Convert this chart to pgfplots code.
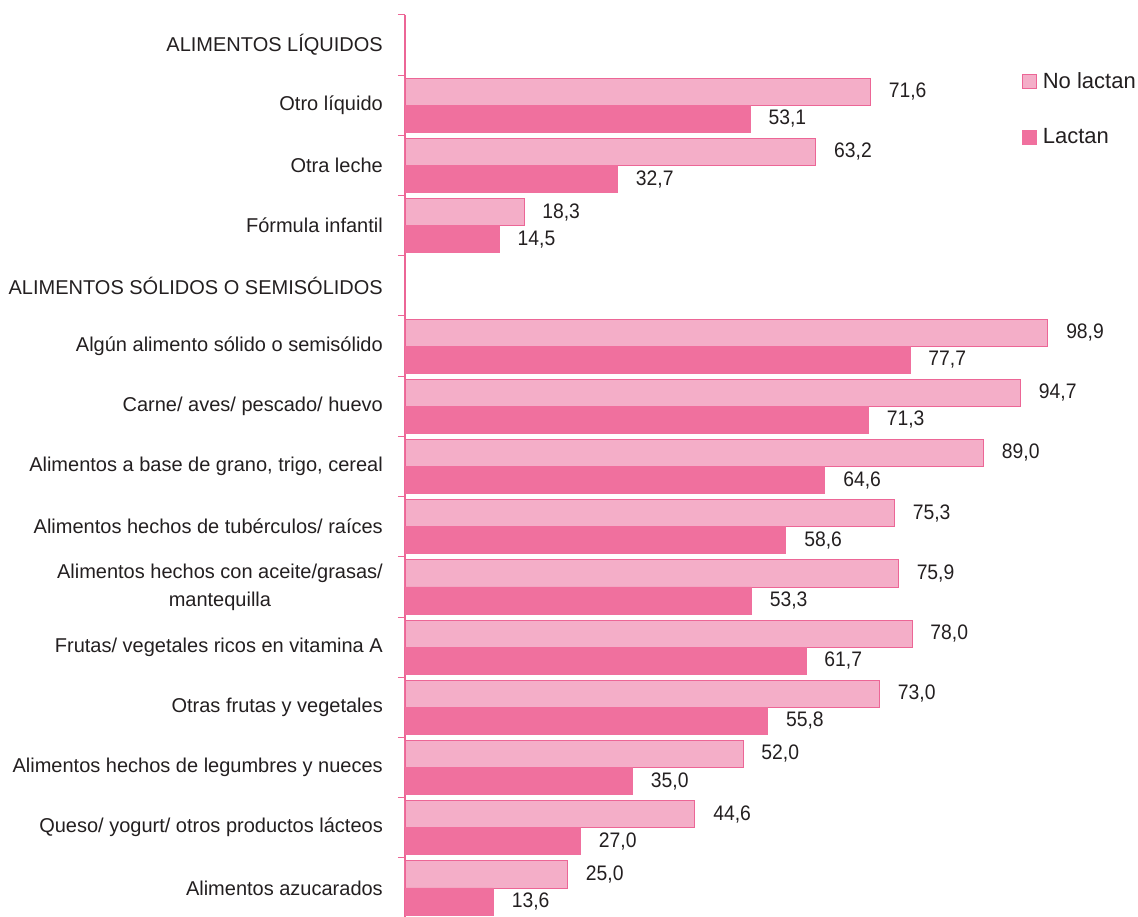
\documentclass[border=0pt]{standalone}
\usepackage{pgfplots}
\pgfplotsset{compat=1.18}
\usepackage{fontspec}
\setmainfont{Liberation Sans}
\newfontfamily\numfont[FakeStretch=0.92]{Liberation Sans}
\definecolor{lightpk}{RGB}{244,174,200}
\definecolor{darkpk}{RGB}{240,112,158}
\definecolor{edgepk}{RGB}{236,102,150}
\definecolor{txt}{RGB}{35,31,32}

\begin{document}
\begin{tikzpicture}
\begin{axis}[
  scale only axis, width=650pt, height=903pt,
  xmin=0, xmax=100, ymin=-0.5, ymax=14.5, y dir=reverse,
  axis x line=none, axis y line*=left,
  axis line style={edgepk, line width=1.2pt},
  xbar, bar width=0.45,
  ytick={0,...,14}, major tick length=0pt,
  minor ytick={-0.5,0.5,...,14.5}, minor tick length=7pt, tick align=outside,
  tick style={edgepk, line width=1pt},
  yticklabels={
    ALIMENTOS LÍQUIDOS,
    Otro líquido,
    Otra leche,
    Fórmula infantil,
    ALIMENTOS SÓLIDOS O SEMISÓLIDOS,
    Algún alimento sólido o semisólido,
    Carne/ aves/ pescado/ huevo,
    {Alimentos a base de grano, trigo, cereal},
    Alimentos hechos de tubérculos/ raíces,
    {Alimentos hechos con aceite/grasas/\\mantequilla},
    Frutas/ vegetales ricos en vitamina A,
    Otras frutas y vegetales,
    Alimentos hechos de legumbres y nueces,
    Queso/ yogurt/ otros productos lácteos,
    Alimentos azucarados},
  yticklabel style={font=\fontsize{20}{28}\selectfont, text=txt, align=center, inner sep=0pt, xshift=-22pt},
  /pgf/number format/assume math mode=true,
  nodes near coords={\pgfmathprintnumber[fixed,fixed zerofill,precision=1,use comma]{\pgfplotspointmeta}},
  nodes near coords style={font=\numfont\fontsize{21}{24}\selectfont, text=txt, anchor=west, inner sep=0pt, xshift=18pt},
  clip=false,
  legend style={draw=none, fill=none, at={(axis description cs:0.949,0.939)}, anchor=north west,
    font=\fontsize{22}{26}\selectfont, text=txt, row sep=35pt, inner sep=0pt},
  legend cell align=left,
  legend image code/.code={\draw[#1, line width=0.8pt] (0pt,-7pt) rectangle (14pt,7pt); \path (18pt,0pt);},
]
\addplot[fill=lightpk, draw=edgepk, line width=0.8pt, bar shift=-0.225] coordinates {
  (71.6,1) (63.2,2) (18.3,3)
  (98.9,5) (94.7,6) (89.0,7) (75.3,8) (75.9,9) (78.0,10) (73.0,11) (52.0,12) (44.6,13) (25.0,14)};
\addlegendentry{No lactan}
\addplot[fill=darkpk, draw=darkpk, line width=0.8pt, bar shift=0.225] coordinates {
  (53.1,1) (32.7,2) (14.5,3)
  (77.7,5) (71.3,6) (64.6,7) (58.6,8) (53.3,9) (61.7,10) (55.8,11) (35.0,12) (27.0,13) (13.6,14)};
\addlegendentry{Lactan}
\coordinate (TL) at (axis description cs:0,1);
\end{axis}
\pgfresetboundingbox
\path[use as bounding box] ([shift={(-405pt,15pt)}]TL) rectangle ([shift={(733pt,-902pt)}]TL);
\end{tikzpicture}
\end{document}
